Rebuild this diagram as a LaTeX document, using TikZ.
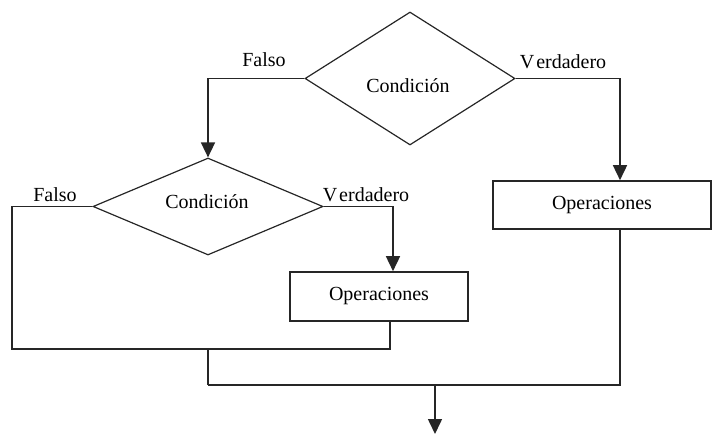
\documentclass[tikz,border=0pt]{standalone}
\usepackage{fontspec}
\setmainfont{Liberation Serif}
\usetikzlibrary{arrows.meta,shapes.geometric}
\begin{document}
\begin{tikzpicture}[x=1pt,y=-1pt,
  font=\fontsize{20}{24}\selectfont,
  flow/.style={line width=1.6pt, draw=black!85},
  arr/.style={flow, -{Triangle[width=14pt,length=15pt]}},
  cond/.style={diamond, draw=black!85, line width=1.2pt, inner sep=0pt},
  opbox/.style={rectangle, draw=black!85, line width=1.6pt, inner sep=0pt},
  lbl/.style={inner sep=0pt}
]
\useasboundingbox (0,0) rectangle (714,435);

% decisions
\node[cond, minimum width=210pt, minimum height=133pt] (c1) at (410,78.5) {};
\node[lbl] (c1t) at (408,86) {Condición};
\node[cond, minimum width=230pt, minimum height=97pt] (c2) at (208,206.5) {};
\node[lbl] (c2t) at (207,202) {Condición};

% operation boxes
\node[opbox, minimum width=218pt, minimum height=48pt] (b1) at (602,205) {Operaciones};
\node[opbox, minimum width=178pt, minimum height=49pt] (b2) at (379,296.5) {Operaciones};

% branch labels
\node[lbl] (f1) at (264,60) {Falso};
\node[lbl] (v1) at (563,62) {V\kern2pt erdadero};
\node[lbl] (f2) at (55,195) {Falso};
\node[lbl] (v2) at (366,195) {V\kern2pt erdadero};

% junction points
\coordinate (b1in)  at ([xshift=18pt]b1.north);
\coordinate (b1out) at ([xshift=18pt]b1.south);
\coordinate (b2in)  at ([xshift=14pt]b2.north);
\coordinate (b2out) at ([xshift=11pt]b2.south);
\coordinate (lc) at (12,349);
\coordinate (j1) at (208,349);
\coordinate (j2) at (208,385);
\coordinate (m)  at (435,385);
\coordinate (e)  at (435,434);

% connectors
\draw[arr] (c1.west) -| (c2.north);
\draw[arr] (c1.east) -| (b1in);
\draw[arr] (c2.east) -| (b2in);
\draw[flow] (c2.west) -| (lc) -| (b2out);
\draw[flow] (j1) -- (j2);
\draw[flow] (b1out) |- (j2);
\draw[arr] (m) -- (e);
\end{tikzpicture}
\end{document}
